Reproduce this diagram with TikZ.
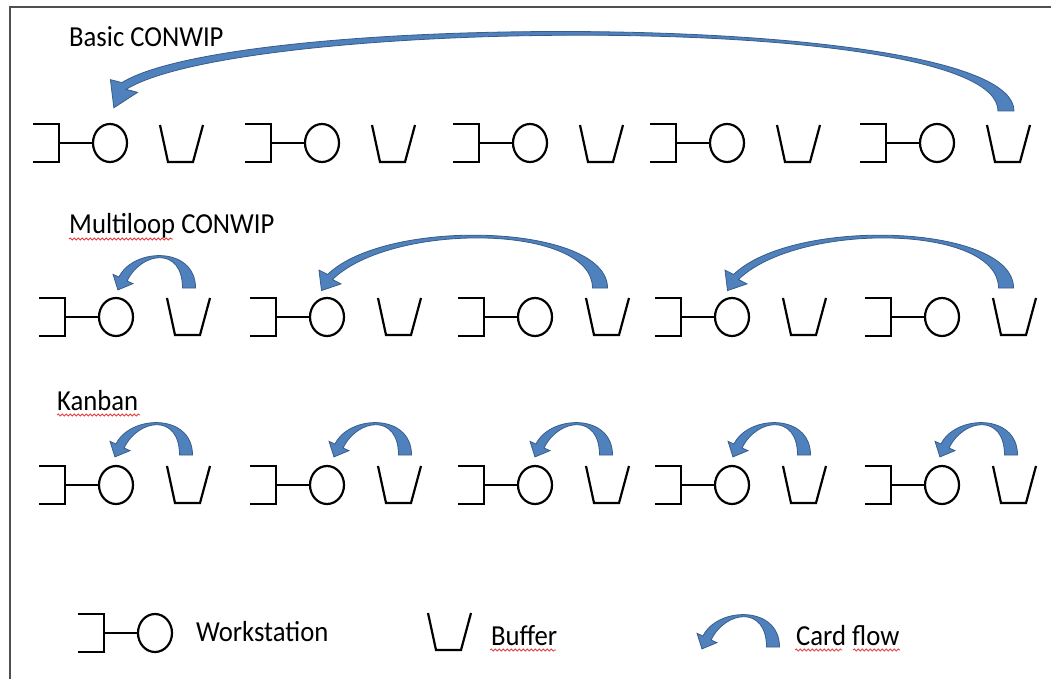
\documentclass[tikz,border=0pt]{standalone}
\usepackage{fontspec}
\setmainfont{Carlito}[FakeStretch=0.92]
\usetikzlibrary{decorations.pathmorphing}

\tikzset{
  sym/.style={line width=2.2pt, line join=miter, black},
  cardfill/.style={fill={rgb,255:red,79;green,129;blue,189}, draw={rgb,255:red,56;green,93;blue,138}, line width=0.8pt},
  lbl/.style={anchor=base west, inner sep=0pt, font=\fontsize{29}{34}\selectfont},
  squig/.style={draw={rgb,255:red,230;green,60;blue,60}, line width=0.8pt, decorate, decoration={snake, segment length=4pt, amplitude=1.1pt}},
  frameline/.style={draw={rgb,255:red,80;green,80;blue,80}, line width=1.6pt}
}

% workstation: #1 bracket left x, #2 middle y
\newcommand{\wstation}[2]{%
  \draw[sym] (#1,#2-19) -- (#1+26,#2-19) -- (#1+26,#2+19) -- (#1,#2+19);
  \draw[sym] (#1+26,#2) -- (#1+60,#2);
  \draw[sym] (#1+77,#2) ellipse [x radius=17pt, y radius=19pt];
}
% buffer: #1 left x, #2 top y
\newcommand{\bufferx}[2]{%
  \draw[sym] (#1,#2) -- (#1+8,#2+37) -- (#1+33,#2+37) -- (#1+43,#2);
}
% card flow arrow: #1 P0x #2 P0y #3 P1y #4 P2x #5 P2y #6 P3x #7 P3y #8 head angle
\newcommand{\cardarrow}[8]{%
  \pgfmathsetmacro\cdx{(#6)-(#4)}%
  \pgfmathsetmacro\cdy{(#7)-(#5)}%
  \pgfmathsetmacro\cl{veclen(\cdx,\cdy)}%
  \pgfmathsetmacro\cnx{-(\cdy)/\cl}%
  \pgfmathsetmacro\cny{(\cdx)/\cl}%
  \pgfmathsetmacro\chx{cos(#8)}%
  \pgfmathsetmacro\chy{sin(#8)}%
  \path[cardfill] ({(#1)+\cwA/2},{#2}) .. controls ({(#1)+\cwA/2},{#3}) and ({(#4)+(\cwB/2)*(\cnx)},{(#5)+(\cwB/2)*(\cny)}) .. ({(#6)+(\cwB/2)*(\cnx)},{(#7)+(\cwB/2)*(\cny)})
    -- ({(#6)-(\chw/2)*(\chy)},{(#7)+(\chw/2)*(\chx)})
    -- ({(#6)+(\chl)*(\chx)},{(#7)+(\chl)*(\chy)})
    -- ({(#6)+(\chw/2)*(\chy)},{(#7)-(\chw/2)*(\chx)})
    -- ({(#6)-(\cwB/2)*(\cnx)},{(#7)-(\cwB/2)*(\cny)}) .. controls ({(#4)-(\cwB/2)*(\cnx)},{(#5)-(\cwB/2)*(\cny)}) and ({(#1)-\cwA/2},{#3}) .. ({(#1)-\cwA/2},{#2}) -- cycle;
}
\newcommand{\smallcard}[2]{%
  \def\cwA{13}\def\cwB{9}\def\chw{22}\def\chl{12}%
  \cardarrow{#1}{#2}{(#2)-42}{(#1)-51.6}{(#2)-38.5}{(#1)-66}{(#2)-9}{115}}
\newcommand{\medcard}[1]{%
  \def\cwA{15}\def\cwB{7}\def\chw{26}\def\chl{16}%
  \cardarrow{#1}{288}{224}{(#1)-210}{219}{(#1)-270}{277}{122}}

\begin{document}
\begin{tikzpicture}[x=1pt,y=-1pt]
\useasboundingbox (0,0) rectangle (1051,679);
\fill[white] (0,0) rectangle (1051,679);
\draw[frameline] (10,679) -- (10,7) -- (1051,7);

% titles
\node[lbl] (basic) at (69,47) {Basic CONWIP};
\node[lbl] (multi) at (69,233) {Multiloop CONWIP};
\node[lbl] (kanban) at (57,410) {Kanban};
\draw[squig] (69,239) -- (173,239);
\draw[squig] (57,415) -- (140,415);

% row 1
\foreach \b in {33,245,453,650,860} {\wstation{\b}{143}\bufferx{\b+127}{125}}
% row 2
\foreach \b in {39,250,458,655,865} {\wstation{\b}{317}\bufferx{\b+128}{298}}
% row 3
\foreach \b in {39,250,458,655,865} {\wstation{\b}{485}\bufferx{\b+128}{466}}

% basic CONWIP loop
\def\cwA{16}\def\cwB{8}\def\chw{30}\def\chl{24}
\cardarrow{1006}{111}{10}{240}{14}{124}{86}{115}

% multiloop CONWIP
\smallcard{189}{288}
\medcard{600}
\medcard{1006}

% kanban
\foreach \t in {186,405,606,804,1011} {\smallcard{\t}{455}}

% legend
\wstation{78}{633}
\node[lbl] (lws) at (196,641) {Workstation};
\bufferx{428}{613}
\node[lbl] (lbuf) at (491,645) {Buffer};
\draw[squig] (490,650) -- (556,650);
\smallcard{773}{647}
\node[lbl] (lcard) at (796,645) {Card flow};
\draw[squig] (795,650) -- (842,650);
\draw[squig] (853,650) -- (900,650);
\end{tikzpicture}
\end{document}
